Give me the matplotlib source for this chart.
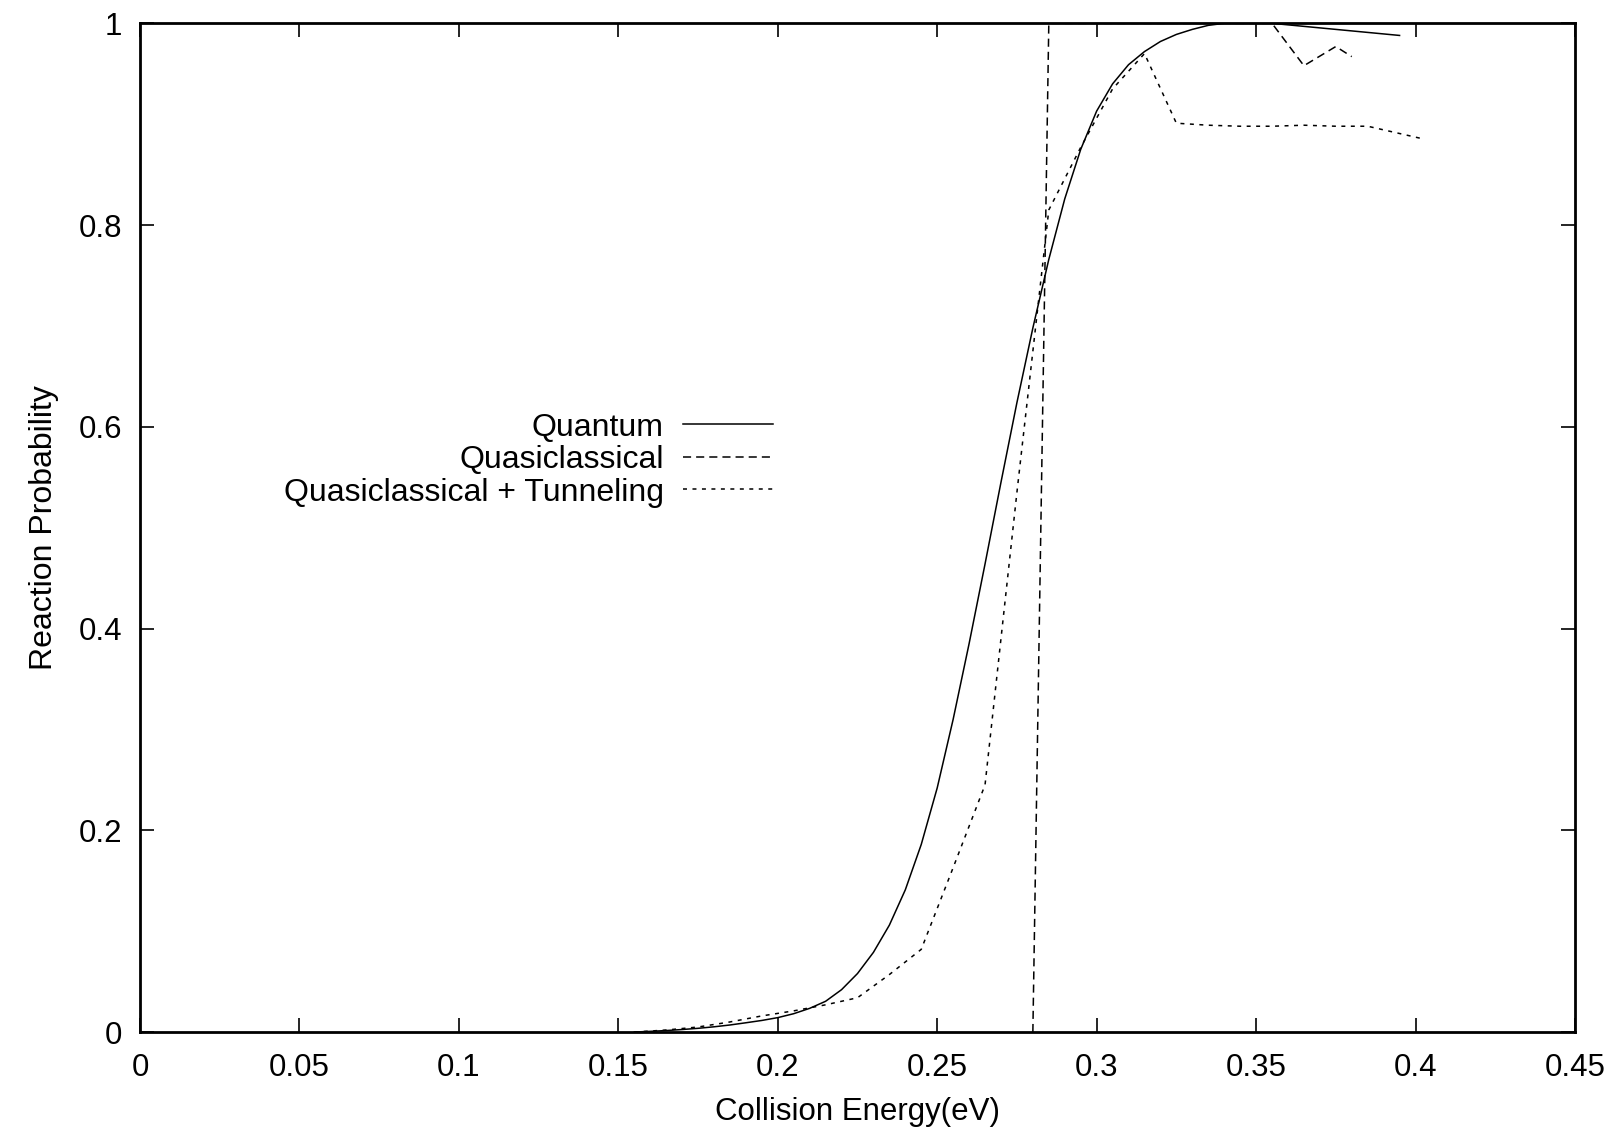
import matplotlib.pyplot as plt
from matplotlib.ticker import FormatStrFormatter, MultipleLocator

plt.rcParams['font.family'] = ['Liberation Sans', 'DejaVu Sans']

# --- Reaction probability vs collision energy ---
quantum_e = [0.155, 0.160, 0.165, 0.170, 0.175, 0.180, 0.185, 0.190, 0.195,
             0.200, 0.205, 0.210, 0.215, 0.220, 0.225, 0.230, 0.235, 0.240,
             0.245, 0.250, 0.255, 0.260, 0.265, 0.270, 0.275, 0.280, 0.285,
             0.290, 0.295, 0.300, 0.305, 0.310, 0.315, 0.320, 0.325, 0.330,
             0.335, 0.340, 0.345, 0.350, 0.355, 0.395]
quantum_p = [0.000, 0.0007, 0.0015, 0.0025, 0.0037, 0.0052, 0.007, 0.0092, 0.0115,
             0.0143, 0.0182, 0.0235, 0.0305, 0.042, 0.058, 0.079, 0.106, 0.141,
             0.186, 0.242, 0.310, 0.385, 0.464, 0.545, 0.624, 0.698, 0.766,
             0.826, 0.875, 0.913, 0.940, 0.959, 0.972, 0.982, 0.989, 0.994,
             0.998, 1.000, 1.000, 1.000, 1.000, 0.988]

qct_e = [0.280, 0.285, 0.355, 0.365, 0.375, 0.380]
qct_p = [0.000, 1.000, 1.000, 0.958, 0.977, 0.967]

tunnel_e = [0.155, 0.165, 0.175, 0.185, 0.195, 0.205, 0.215, 0.225, 0.235,
            0.245, 0.255, 0.265, 0.275, 0.285, 0.295, 0.305, 0.315, 0.325,
            0.335, 0.345, 0.355, 0.365, 0.375, 0.385, 0.403]
tunnel_p = [0.000, 0.002, 0.005, 0.010, 0.016, 0.021, 0.027, 0.034, 0.057,
            0.082, 0.163, 0.245, 0.535, 0.815, 0.877, 0.935, 0.970, 0.901,
            0.899, 0.898, 0.898, 0.899, 0.898, 0.898, 0.885]

labels = ['Quantum', 'Quasiclassical', 'Quasiclassical + Tunneling']

fig = plt.figure(figsize=(16.15, 11.33), dpi=100)
ax = fig.add_axes([0.0867, 0.0891, 0.8885, 0.8903])

lw = 1.1
ax.plot(quantum_e, quantum_p, color='black', lw=lw, label=labels[0])
ax.plot(qct_e, qct_p, color='black', lw=lw, linestyle=(0, (5.3, 3.3)), label=labels[1])
ax.plot(tunnel_e, tunnel_p, color='black', lw=lw, linestyle=(0, (2.6, 3.6)), label=labels[2])

ax.set_xlim(0, 0.45)
ax.set_ylim(0, 1)
ax.xaxis.set_major_locator(MultipleLocator(0.05))
ax.yaxis.set_major_locator(MultipleLocator(0.2))
ax.xaxis.set_major_formatter(FormatStrFormatter('%g'))
ax.yaxis.set_major_formatter(FormatStrFormatter('%g'))

ax.tick_params(direction='in', length=10, width=1.2, top=True, right=True,
               labelsize=22.5, color='black')
ax.tick_params(axis='x', pad=15)
ax.tick_params(axis='y', pad=13)
for sp in ax.spines.values():
    sp.set_linewidth(2.0)

ax.set_xlabel('Collision Energy(eV)', fontsize=22.5, labelpad=10)
ax.set_ylabel('Reaction Probability', fontsize=23, labelpad=14)

# key sits to the left of the rising edge, labels right-aligned before samples
ax.legend(loc='center right', bbox_to_anchor=(0.4408, 0.567), frameon=False,
          markerfirst=False, fontsize=23, handlelength=2.8,
          handletextpad=0.6, labelspacing=0.08, borderpad=0, borderaxespad=0)

fig.savefig('out.png', dpi=100)
